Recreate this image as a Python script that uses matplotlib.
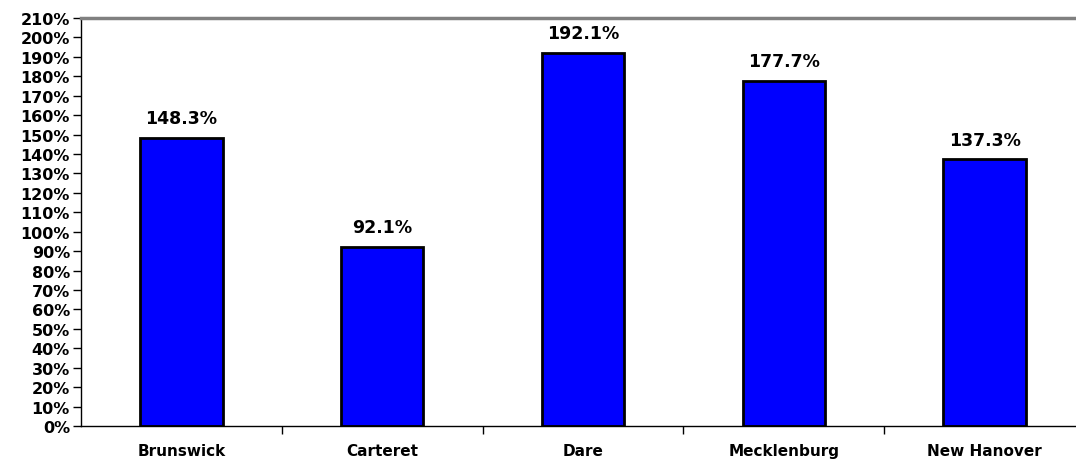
import matplotlib.pyplot as plt
from matplotlib.ticker import MultipleLocator, FuncFormatter

# Values
counties = ["Brunswick", "Carteret", "Dare", "Mecklenburg", "New Hanover"]
pct = [148.3, 92.1, 192.1, 177.7, 137.3]
labels = ["148.3%", "92.1%", "192.1%", "177.7%", "137.3%"]

fig = plt.figure(figsize=(10.76, 4.64), dpi=100)
ax = fig.add_axes([0.0753, 0.0797, 0.9247, 0.8793])

x = list(range(len(counties)))
ax.bar(x, pct, width=0.41, color="#0000FF", edgecolor="black", linewidth=2)

# value labels above bars
for xi, v, lab in zip(x, pct, labels):
    ax.text(xi, v + 5.5, lab, ha="center", va="bottom",
            fontsize=12.5, fontweight="bold")

ax.set_ylim(0, 210)
ax.set_xlim(-0.5, 4.455)
ax.yaxis.set_major_locator(MultipleLocator(10))
ax.yaxis.set_major_formatter(FuncFormatter(lambda v, p: f"{v:.0f}%"))

# category names without ticks, tick marks between categories
ax.set_xticks(x)
ax.set_xticklabels(counties, fontsize=11, fontweight="bold")
ax.tick_params(axis="x", length=0, pad=12)
ax.set_xticks([i + 0.5 for i in x[:-1]], minor=True)
ax.tick_params(axis="x", which="minor", length=6, width=1, direction="out")

for t in ax.get_yticklabels():
    t.set_fontweight("bold")
ax.tick_params(axis="y", labelsize=11.5, length=6, width=1, pad=2)

ax.spines["top"].set_color("#808080")
ax.spines["top"].set_linewidth(2.5)
ax.spines["right"].set_visible(False)
ax.spines["left"].set_linewidth(1)
ax.spines["bottom"].set_linewidth(1)

plt.savefig("out.png", dpi=100)
